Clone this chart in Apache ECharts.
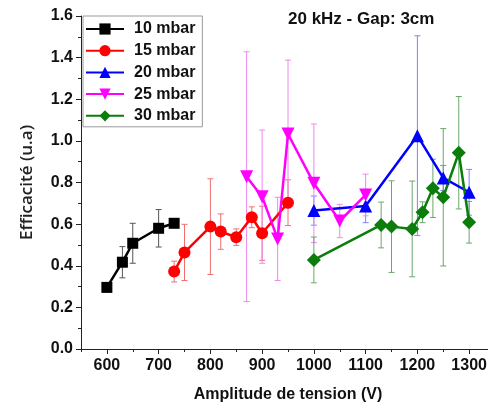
<!DOCTYPE html>
<html><head><meta charset="utf-8">
<script src="https://cdn.jsdelivr.net/npm/echarts@6/dist/echarts.min.js"></script>
<style>html,body{margin:0;padding:0;background:#fff}#c{width:488px;height:408px}</style>
</head><body><div id="c"></div>
<script>
const names = ['10 mbar','15 mbar','20 mbar','25 mbar','30 mbar'];
const x10 = [600,630,650,700,730];
const y10 = [0.296,0.417,0.508,0.58,0.604];
const e10 = [0.02,0.075,0.096,0.09,0.02];
const x15 = [730,750,800,820,850,880,900,950];
const y15 = [0.372,0.464,0.588,0.564,0.537,0.633,0.556,0.703];
const e15 = [0.05,0.135,0.23,0.085,0.04,0.05,0.13,0.11];
const x20 = [1000,1100,1200,1250,1300];
const y20 = [0.665,0.687,1.025,0.822,0.753];
const e20 = [0.07,0.08,0.48,0.06,0.11];
const x25 = [870,900,930,950,1000,1050,1100];
const y25 = [0.828,0.732,0.529,1.033,0.796,0.615,0.74];
const e25 = [0.6,0.32,0.2,0.355,0.285,0.08,0.1];
const x30 = [1000,1130,1150,1190,1210,1230,1250,1280,1300];
const y30 = [0.428,0.596,0.588,0.577,0.657,0.772,0.729,0.943,0.609];
const e30 = [0.11,0.11,0.22,0.23,0.05,0.14,0.33,0.27,0.1];
const xMajor = [600,700,800,900,1000,1100,1200,1300];
const xMinor = [550,650,750,850,950,1050,1150,1250];

const colors = ['#000000','#ff0000','#0000ff','#ff00ff','#0a7d0a'];
const errColors = ['#555555','#f07070','#8080ff','#ee88ee','#6aa86a'];
const symbols = ['rect','circle','triangle','triangle','diamond'];
const symSizes = [11,12,13,13,14];
const symRot = [0,0,0,180,0];
const sets = [[x10,y10,e10],[x15,y15,e15],[x20,y20,e20],[x25,y25,e25],[x30,y30,e30]];

const font = 'Liberation Sans, Arial, sans-serif';
const series = [];
sets.forEach((s, i) => {
  series.push({
    type: 'custom', xAxisIndex: 0, yAxisIndex: 0, z: 1, silent: true,
    data: s[0].map((x, k) => [x, s[1][k], s[2][k]]),
    encode: {x: 0, y: 1},
    renderItem: function (params, api) {
      const x = api.value(0), y = api.value(1), e = api.value(2);
      const t = api.coord([x, y + e]), b = api.coord([x, y - e]);
      const w = 3;
      const st = {stroke: errColors[i], lineWidth: 1};
      return {type: 'group', children: [
        {type: 'line', shape: {x1: t[0], y1: t[1], x2: b[0], y2: b[1]}, style: st},
        {type: 'line', shape: {x1: t[0]-w, y1: t[1], x2: t[0]+w, y2: t[1]}, style: st},
        {type: 'line', shape: {x1: b[0]-w, y1: b[1], x2: b[0]+w, y2: b[1]}, style: st}
      ]};
    }
  });
});
sets.forEach((s, i) => {
  series.push({
    name: names[i], type: 'line', xAxisIndex: 0, yAxisIndex: 0, z: 3,
    data: s[0].map((x, k) => [x, s[1][k]]),
    symbol: symbols[i], symbolSize: symSizes[i], symbolRotate: symRot[i],
    lineStyle: {color: colors[i], width: 2.5},
    itemStyle: {color: colors[i]},
    animation: false
  });
});

const chart = echarts.init(document.getElementById('c'));
chart.setOption({
  animation: false,
  grid: {left: 81, top: 16, right: -7, bottom: 59, containLabel: false, outerBoundsMode: 'none'},
  legend: {
    data: names, orient: 'vertical', left: 83, top: 16,
    backgroundColor: '#fff', borderColor: '#9a9a9a', borderWidth: 1,
    padding: [5, 7, 3, 2], itemWidth: 38, itemHeight: 14, itemGap: 5.7,
    textStyle: {fontFamily: font, fontWeight: 'bold', fontSize: 16, color: '#111', padding: [0,0,0,5]}
  },
  xAxis: [{
    type: 'value', min: 550, max: 1350,
    axisLine: {show: true, lineStyle: {color: '#222', width: 1}},
    axisTick: {show: true, length: 5, customValues: xMajor, lineStyle: {color: '#222'}},
    axisLabel: {customValues: xMajor, fontFamily: font, fontWeight: 'bold', fontSize: 16, color: '#111', margin: 9,
      formatter: v => String(Math.round(v))},
    splitLine: {show: false},
    name: 'Amplitude de tension (V)', nameLocation: 'middle', nameGap: 38,
    nameTextStyle: {fontFamily: font, fontWeight: 'bold', fontSize: 16, color: '#111'}
  }, {
    type: 'value', min: 550, max: 1350, position: 'bottom',
    axisLine: {show: false},
    axisTick: {show: true, length: 3, customValues: xMinor, lineStyle: {color: '#222'}},
    axisLabel: {show: false}, splitLine: {show: false}
  }],
  yAxis: {
    type: 'value', min: 0, max: 1.6, interval: 0.2,
    axisLine: {show: true, lineStyle: {color: '#222', width: 1}},
    axisTick: {show: true, length: 5, lineStyle: {color: '#222'}},
    minorTick: {show: true, splitNumber: 2, length: 3, lineStyle: {color: '#222'}},
    axisLabel: {fontFamily: font, fontWeight: 'bold', fontSize: 16, color: '#111', margin: 8,
      formatter: v => v.toFixed(1)},
    splitLine: {show: false}, minorSplitLine: {show: false}
  },
  graphic: [
    {type: 'text', left: 288, top: 11, style: {text: '20 kHz - Gap: 3cm', font: 'bold 17px ' + font, fill: '#111'}},
    {type: 'text', x: 27.5, y: 182.5, rotation: Math.PI / 2,
      style: {text: 'Efficacité (u.a)', font: '600 17px "Open Sans", sans-serif', fill: '#222', align: 'center', verticalAlign: 'middle'}}
  ],
  series: series
});
</script>
</body></html>
